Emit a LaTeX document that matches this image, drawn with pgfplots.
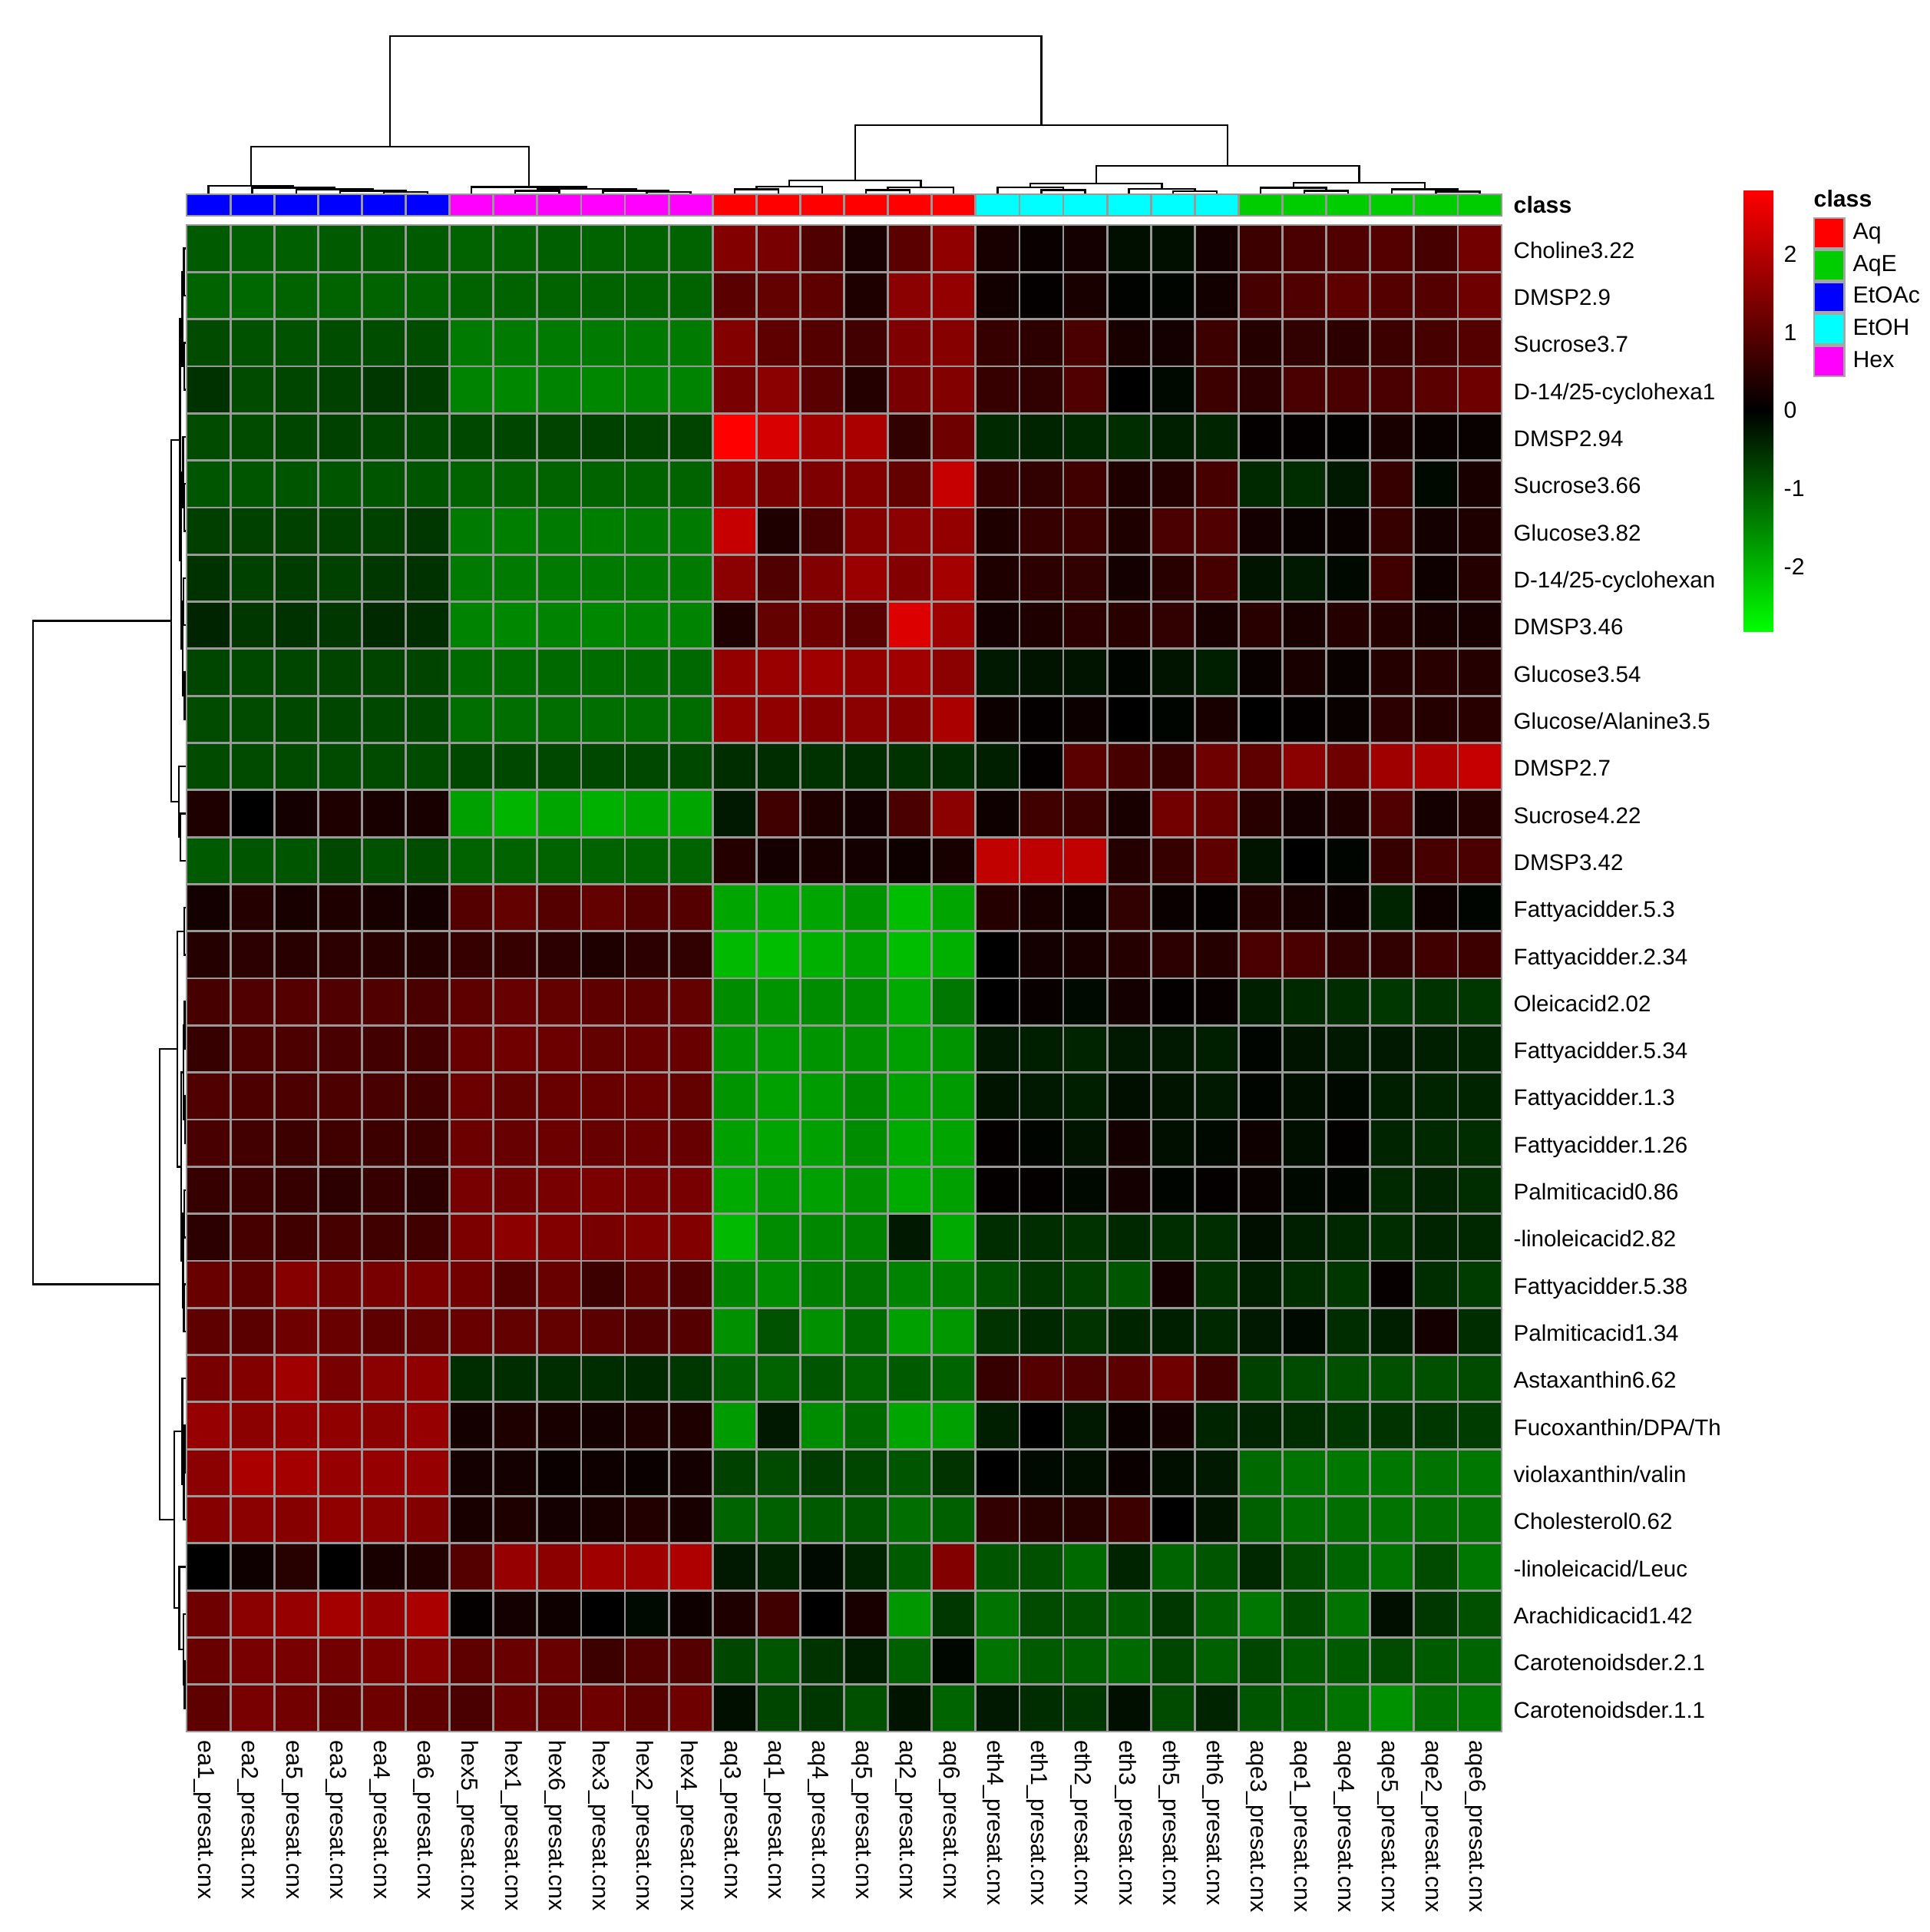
\documentclass[border=0pt]{standalone}
\usepackage{fontspec}
\setmainfont{Liberation Sans}
\usepackage{pgfplots}
\pgfplotsset{compat=1.18}
\newcommand\rowfont{\fontsize{8.4}{10}\selectfont}
\newcommand\colfont{\fontsize{8.6}{10}\selectfont}
\pgfplotsset{
  heatcm/.style={colormap={rg}{rgb255=(0,255,0) rgb255=(0,0,0) rgb255=(255,0,0)}},
}
\begin{document}
\begin{tikzpicture}
\useasboundingbox (0,0) rectangle (25.13,-25.16);
% ---------- main heatmap ----------
\begin{axis}[
  at={(2.43cm,-22.55cm)}, anchor=south west,
  width=17.13cm, height=19.62cm, scale only axis,
  xmin=0, xmax=30, ymin=0, ymax=32, y dir=reverse,
  clip=false, axis on top,
  heatcm, point meta min=-2.83, point meta max=2.83,
  xtick={0.5,1.5,2.5,3.5,4.5,5.5,6.5,7.5,8.5,9.5,10.5,11.5,12.5,13.5,14.5,15.5,16.5,17.5,18.5,19.5,20.5,21.5,22.5,23.5,24.5,25.5,26.5,27.5,28.5,29.5},
  ytick={0.5,1.5,2.5,3.5,4.5,5.5,6.5,7.5,8.5,9.5,10.5,11.5,12.5,13.5,14.5,15.5,16.5,17.5,18.5,19.5,20.5,21.5,22.5,23.5,24.5,25.5,26.5,27.5,28.5,29.5,30.5,31.5},
  minor xtick={0,1,...,30}, minor ytick={0,1,...,32},
  grid=minor, minor grid style={gray!80, line width=0.8pt},
  major tick length=0pt, minor tick length=0pt,
  axis line style={gray!80, line width=0.8pt},
  xticklabels={ea1\_presat.cnx, ea2\_presat.cnx, ea5\_presat.cnx, ea3\_presat.cnx, ea4\_presat.cnx, ea6\_presat.cnx, hex5\_presat.cnx, hex1\_presat.cnx, hex6\_presat.cnx, hex3\_presat.cnx, hex2\_presat.cnx, hex4\_presat.cnx, aq3\_presat.cnx, aq1\_presat.cnx, aq4\_presat.cnx, aq5\_presat.cnx, aq2\_presat.cnx, aq6\_presat.cnx, eth4\_presat.cnx, eth1\_presat.cnx, eth2\_presat.cnx, eth3\_presat.cnx, eth5\_presat.cnx, eth6\_presat.cnx, aqe3\_presat.cnx, aqe1\_presat.cnx, aqe4\_presat.cnx, aqe5\_presat.cnx, aqe2\_presat.cnx, aqe6\_presat.cnx},
  yticklabels={Choline3.22, DMSP2.9, Sucrose3.7, D-14/25-cyclohexa1, DMSP2.94, Sucrose3.66, Glucose3.82, D-14/25-cyclohexan, DMSP3.46, Glucose3.54, Glucose/Alanine3.5, DMSP2.7, Sucrose4.22, DMSP3.42, Fattyacidder.5.3, Fattyacidder.2.34, Oleicacid2.02, Fattyacidder.5.34, Fattyacidder.1.3, Fattyacidder.1.26, Palmiticacid0.86, -linoleicacid2.82, Fattyacidder.5.38, Palmiticacid1.34, Astaxanthin6.62, Fucoxanthin/DPA/Th, violaxanthin/valin, Cholesterol0.62, -linoleicacid/Leuc, Arachidicacid1.42, Carotenoidsder.2.1, Carotenoidsder.1.1},
  yticklabel pos=right,
  xticklabel style={font=\colfont, inner sep=0pt, text height=0.72em, text depth=0pt, yshift=-0.11cm, rotate=-90, anchor=west},
  yticklabel style={font=\rowfont, inner sep=0pt, text height=0.72em, text depth=0pt, anchor=west, xshift=0.15cm},
]
\addplot[matrix plot*, mesh/cols=30, point meta=explicit, forget plot]
 table[row sep=\\, x expr={\coordindex-30*floor((\coordindex+0.5)/30)+0.5}, y expr={floor((\coordindex+0.5)/30)+0.5}, meta=z] {
z\\
-1.0\\ -1.05\\ -1.05\\ -1.0\\ -1.0\\ -1.0\\ -1.1\\ -1.1\\ -1.05\\ -1.1\\ -1.1\\ -1.1\\ 1.45\\ 1.35\\ 0.9\\ 0.3\\ 1.0\\ 1.6\\ 0.28\\ 0.11\\ 0.22\\ -0.17\\ -0.17\\ 0.22\\ 0.67\\ 0.83\\ 0.89\\ 0.94\\ 0.78\\ 1.28\\
-1.1\\ -1.15\\ -1.1\\ -1.1\\ -1.1\\ -1.1\\ -1.1\\ -1.1\\ -1.1\\ -1.1\\ -1.1\\ -1.1\\ 1.0\\ 1.1\\ 1.05\\ 0.35\\ 1.55\\ 1.65\\ 0.2\\ 0.05\\ 0.28\\ -0.03\\ -0.05\\ 0.2\\ 0.78\\ 0.9\\ 1.05\\ 0.95\\ 0.95\\ 1.22\\
-0.83\\ -0.9\\ -0.9\\ -0.85\\ -0.85\\ -0.85\\ -1.35\\ -1.35\\ -1.35\\ -1.35\\ -1.35\\ -1.35\\ 1.45\\ 1.05\\ 0.95\\ 0.75\\ 1.4\\ 1.5\\ 0.6\\ 0.5\\ 0.83\\ 0.28\\ 0.22\\ 0.67\\ 0.4\\ 0.55\\ 0.5\\ 0.67\\ 0.78\\ 0.95\\
-0.55\\ -0.83\\ -0.78\\ -0.72\\ -0.6\\ -0.67\\ -1.45\\ -1.5\\ -1.45\\ -1.5\\ -1.45\\ -1.45\\ 1.35\\ 1.55\\ 1.0\\ 0.4\\ 1.35\\ 1.45\\ 0.6\\ 0.55\\ 0.9\\ 0.0\\ -0.1\\ 0.67\\ 0.5\\ 0.83\\ 0.83\\ 0.83\\ 1.0\\ 1.22\\
-0.83\\ -0.83\\ -0.78\\ -0.72\\ -0.78\\ -0.8\\ -0.8\\ -0.78\\ -0.75\\ -0.72\\ -0.75\\ -0.75\\ 2.83\\ 2.4\\ 1.78\\ 1.9\\ 0.55\\ 1.22\\ -0.45\\ -0.4\\ -0.45\\ -0.5\\ -0.33\\ -0.4\\ 0.05\\ 0.05\\ 0.03\\ 0.28\\ 0.1\\ 0.1\\
-0.95\\ -0.95\\ -0.95\\ -0.95\\ -0.95\\ -0.95\\ -1.1\\ -1.1\\ -1.1\\ -1.1\\ -1.1\\ -1.1\\ 1.65\\ 1.35\\ 1.4\\ 1.45\\ 1.1\\ 2.2\\ 0.6\\ 0.55\\ 0.72\\ 0.33\\ 0.4\\ 0.78\\ -0.45\\ -0.5\\ -0.28\\ 0.6\\ -0.1\\ 0.28\\
-0.7\\ -0.72\\ -0.72\\ -0.72\\ -0.72\\ -0.6\\ -1.35\\ -1.4\\ -1.35\\ -1.4\\ -1.35\\ -1.35\\ 2.2\\ 0.33\\ 0.83\\ 1.5\\ 1.55\\ 1.65\\ 0.33\\ 0.6\\ 0.67\\ 0.33\\ 0.83\\ 0.9\\ 0.22\\ 0.1\\ 0.1\\ 0.6\\ 0.22\\ 0.33\\
-0.55\\ -0.72\\ -0.67\\ -0.72\\ -0.6\\ -0.55\\ -1.35\\ -1.35\\ -1.35\\ -1.35\\ -1.35\\ -1.35\\ 1.55\\ 0.9\\ 1.45\\ 1.72\\ 1.45\\ 1.83\\ 0.33\\ 0.5\\ 0.55\\ 0.22\\ 0.45\\ 0.78\\ -0.22\\ -0.28\\ -0.1\\ 0.72\\ 0.17\\ 0.4\\
-0.4\\ -0.6\\ -0.55\\ -0.6\\ -0.45\\ -0.5\\ -1.45\\ -1.5\\ -1.45\\ -1.5\\ -1.45\\ -1.45\\ 0.33\\ 1.1\\ 1.22\\ 1.0\\ 2.45\\ 1.78\\ 0.22\\ 0.33\\ 0.5\\ 0.45\\ 0.55\\ 0.28\\ 0.45\\ 0.28\\ 0.4\\ 0.4\\ 0.28\\ 0.28\\
-0.78\\ -0.8\\ -0.78\\ -0.75\\ -0.75\\ -0.75\\ -1.17\\ -1.2\\ -1.17\\ -1.2\\ -1.17\\ -1.15\\ 1.65\\ 1.72\\ 1.78\\ 1.65\\ 1.78\\ 1.55\\ -0.28\\ -0.22\\ -0.22\\ -0.05\\ -0.22\\ -0.33\\ 0.1\\ 0.28\\ 0.1\\ 0.4\\ 0.45\\ 0.4\\
-0.83\\ -0.83\\ -0.8\\ -0.78\\ -0.8\\ -0.8\\ -1.22\\ -1.22\\ -1.22\\ -1.22\\ -1.22\\ -1.2\\ 1.65\\ 1.6\\ 1.5\\ 1.55\\ 1.5\\ 1.9\\ 0.13\\ 0.05\\ 0.13\\ 0.0\\ -0.05\\ 0.28\\ 0.0\\ 0.05\\ 0.1\\ 0.5\\ 0.4\\ 0.45\\
-0.83\\ -0.83\\ -0.83\\ -0.83\\ -0.83\\ -0.83\\ -0.8\\ -0.8\\ -0.8\\ -0.8\\ -0.8\\ -0.8\\ -0.5\\ -0.5\\ -0.55\\ -0.5\\ -0.55\\ -0.5\\ -0.33\\ 0.05\\ 1.0\\ 0.78\\ 0.6\\ 1.22\\ 1.05\\ 1.55\\ 1.22\\ 1.78\\ 1.95\\ 2.2\\
0.33\\ 0.0\\ 0.22\\ 0.33\\ 0.28\\ 0.28\\ -1.78\\ -2.0\\ -1.83\\ -1.95\\ -1.83\\ -1.83\\ -0.28\\ 0.72\\ 0.33\\ 0.22\\ 0.83\\ 1.55\\ 0.17\\ 0.72\\ 0.67\\ 0.28\\ 1.28\\ 1.17\\ 0.45\\ 0.22\\ 0.33\\ 0.9\\ 0.22\\ 0.4\\
-1.0\\ -0.95\\ -0.95\\ -0.8\\ -0.9\\ -0.85\\ -1.1\\ -1.1\\ -1.1\\ -1.1\\ -1.1\\ -1.1\\ 0.4\\ 0.22\\ 0.28\\ 0.22\\ 0.17\\ 0.28\\ 2.15\\ 2.1\\ 2.15\\ 0.4\\ 0.6\\ 1.05\\ -0.22\\ 0.0\\ -0.05\\ 0.6\\ 0.78\\ 0.83\\
0.22\\ 0.4\\ 0.28\\ 0.33\\ 0.28\\ 0.22\\ 0.95\\ 1.1\\ 0.95\\ 1.1\\ 0.95\\ 0.95\\ -1.83\\ -1.9\\ -1.83\\ -1.65\\ -2.1\\ -1.83\\ 0.4\\ 0.28\\ 0.17\\ 0.55\\ 0.11\\ 0.05\\ 0.4\\ 0.28\\ 0.17\\ -0.4\\ 0.17\\ -0.05\\
0.4\\ 0.5\\ 0.45\\ 0.5\\ 0.45\\ 0.4\\ 0.6\\ 0.6\\ 0.5\\ 0.33\\ 0.5\\ 0.55\\ -2.05\\ -2.1\\ -1.95\\ -1.78\\ -2.1\\ -1.95\\ 0.0\\ 0.22\\ 0.28\\ 0.4\\ 0.5\\ 0.4\\ 0.83\\ 0.83\\ 0.55\\ 0.55\\ 0.72\\ 0.67\\
0.78\\ 0.9\\ 0.95\\ 0.9\\ 0.9\\ 0.83\\ 1.05\\ 1.15\\ 1.1\\ 1.05\\ 1.05\\ 1.1\\ -1.55\\ -1.65\\ -1.55\\ -1.55\\ -1.89\\ -1.33\\ 0.0\\ 0.09\\ -0.11\\ 0.22\\ 0.06\\ 0.09\\ -0.33\\ -0.45\\ -0.5\\ -0.6\\ -0.55\\ -0.6\\
0.6\\ 0.85\\ 0.85\\ 0.8\\ 0.75\\ 0.75\\ 1.17\\ 1.25\\ 1.2\\ 1.1\\ 1.17\\ 1.17\\ -1.65\\ -1.72\\ -1.65\\ -1.6\\ -1.78\\ -1.65\\ -0.28\\ -0.33\\ -0.4\\ -0.28\\ -0.28\\ -0.33\\ -0.05\\ -0.22\\ -0.28\\ -0.28\\ -0.33\\ -0.4\\
0.9\\ 0.85\\ 0.85\\ 0.85\\ 0.8\\ 0.75\\ 1.2\\ 1.1\\ 1.17\\ 1.17\\ 1.2\\ 1.1\\ -1.65\\ -1.78\\ -1.72\\ -1.5\\ -1.78\\ -1.72\\ -0.22\\ -0.28\\ -0.33\\ -0.17\\ -0.22\\ -0.28\\ -0.05\\ -0.17\\ -0.1\\ -0.33\\ -0.4\\ -0.4\\
0.8\\ 0.75\\ 0.67\\ 0.72\\ 0.67\\ 0.67\\ 1.2\\ 1.15\\ 1.2\\ 1.15\\ 1.2\\ 1.15\\ -1.78\\ -1.83\\ -1.78\\ -1.55\\ -1.9\\ -1.83\\ 0.05\\ -0.05\\ -0.22\\ 0.22\\ -0.17\\ -0.1\\ 0.17\\ -0.17\\ 0.03\\ -0.4\\ -0.45\\ -0.5\\
0.6\\ 0.67\\ 0.6\\ 0.5\\ 0.6\\ 0.5\\ 1.33\\ 1.28\\ 1.33\\ 1.39\\ 1.33\\ 1.33\\ -1.89\\ -1.72\\ -1.78\\ -1.6\\ -1.9\\ -1.78\\ 0.05\\ 0.05\\ -0.1\\ 0.22\\ -0.05\\ 0.05\\ 0.1\\ -0.1\\ -0.05\\ -0.45\\ -0.4\\ -0.5\\
0.5\\ 0.78\\ 0.72\\ 0.78\\ 0.72\\ 0.72\\ 1.39\\ 1.56\\ 1.44\\ 1.33\\ 1.44\\ 1.44\\ -2.05\\ -1.55\\ -1.5\\ -1.44\\ -0.28\\ -1.89\\ -0.5\\ -0.5\\ -0.55\\ -0.44\\ -0.5\\ -0.5\\ -0.17\\ -0.33\\ -0.44\\ -0.5\\ -0.39\\ -0.44\\
1.17\\ 1.06\\ 1.5\\ 1.28\\ 1.33\\ 1.39\\ 1.28\\ 0.94\\ 1.17\\ 0.67\\ 1.06\\ 0.89\\ -1.45\\ -1.55\\ -1.4\\ -1.28\\ -1.45\\ -1.4\\ -0.9\\ -0.6\\ -0.72\\ -0.95\\ 0.22\\ -0.55\\ -0.33\\ -0.5\\ -0.6\\ 0.08\\ -0.5\\ -0.67\\
1.05\\ 1.0\\ 1.22\\ 1.17\\ 1.05\\ 1.1\\ 1.17\\ 1.1\\ 1.1\\ 1.0\\ 0.89\\ 0.95\\ -1.6\\ -0.9\\ -1.6\\ -1.17\\ -1.78\\ -1.67\\ -0.56\\ -0.44\\ -0.56\\ -0.39\\ -0.33\\ -0.44\\ -0.28\\ -0.11\\ -0.5\\ -0.33\\ 0.22\\ -0.5\\
1.33\\ 1.45\\ 1.78\\ 1.33\\ 1.55\\ 1.61\\ -0.5\\ -0.5\\ -0.5\\ -0.5\\ -0.45\\ -0.6\\ -1.05\\ -1.1\\ -0.94\\ -1.1\\ -1.0\\ -1.11\\ 0.61\\ 0.94\\ 0.89\\ 1.0\\ 1.22\\ 0.72\\ -0.72\\ -0.83\\ -0.89\\ -0.89\\ -0.89\\ -0.83\\
1.67\\ 1.55\\ 1.67\\ 1.61\\ 1.55\\ 1.67\\ 0.22\\ 0.33\\ 0.28\\ 0.22\\ 0.33\\ 0.33\\ -1.72\\ -0.28\\ -1.55\\ -1.17\\ -1.83\\ -1.78\\ -0.33\\ 0.0\\ -0.28\\ 0.11\\ 0.22\\ -0.39\\ -0.39\\ -0.5\\ -0.61\\ -0.56\\ -0.61\\ -0.67\\
1.55\\ 1.89\\ 1.83\\ 1.67\\ 1.67\\ 1.67\\ 0.22\\ 0.22\\ 0.11\\ 0.17\\ 0.11\\ 0.22\\ -0.72\\ -0.83\\ -0.67\\ -0.78\\ -0.94\\ -0.56\\ 0.0\\ -0.11\\ -0.17\\ 0.11\\ -0.17\\ -0.28\\ -1.17\\ -1.28\\ -1.33\\ -1.33\\ -1.28\\ -1.33\\
1.5\\ 1.55\\ 1.5\\ 1.61\\ 1.55\\ 1.44\\ 0.28\\ 0.33\\ 0.22\\ 0.28\\ 0.39\\ 0.28\\ -1.11\\ -1.06\\ -1.0\\ -0.94\\ -1.22\\ -1.06\\ 0.56\\ 0.44\\ 0.44\\ 0.67\\ 0.0\\ -0.22\\ -1.06\\ -1.22\\ -1.22\\ -1.28\\ -1.22\\ -1.28\\
0.0\\ 0.17\\ 0.44\\ 0.0\\ 0.28\\ 0.39\\ 0.94\\ 1.67\\ 1.56\\ 1.78\\ 1.78\\ 1.94\\ -0.28\\ -0.39\\ -0.11\\ -0.39\\ -1.0\\ 1.45\\ -0.94\\ -0.89\\ -1.17\\ -0.39\\ -1.11\\ -0.94\\ -0.44\\ -0.83\\ -1.11\\ -1.28\\ -0.83\\ -1.33\\
1.22\\ 1.55\\ 1.67\\ 1.83\\ 1.67\\ 1.89\\ 0.06\\ 0.22\\ 0.17\\ 0.0\\ -0.11\\ 0.17\\ 0.33\\ 0.72\\ 0.0\\ 0.28\\ -1.67\\ -0.61\\ -1.28\\ -0.83\\ -0.89\\ -1.0\\ -0.61\\ -1.06\\ -1.33\\ -0.83\\ -1.28\\ -0.17\\ -0.61\\ -0.89\\
1.17\\ 1.33\\ 1.33\\ 1.28\\ 1.39\\ 1.5\\ 1.06\\ 1.17\\ 1.17\\ 0.67\\ 0.94\\ 0.94\\ -0.78\\ -0.94\\ -0.56\\ -0.33\\ -1.06\\ -0.06\\ -1.28\\ -1.0\\ -1.06\\ -1.17\\ -0.78\\ -1.06\\ -0.78\\ -1.0\\ -1.0\\ -0.83\\ -1.0\\ -1.11\\
1.06\\ 1.33\\ 1.28\\ 1.11\\ 1.22\\ 1.06\\ 0.83\\ 1.17\\ 1.11\\ 1.22\\ 1.06\\ 1.22\\ -0.17\\ -0.78\\ -0.61\\ -0.89\\ -0.22\\ -1.11\\ -0.28\\ -0.5\\ -0.61\\ -0.17\\ -0.83\\ -0.39\\ -0.94\\ -1.06\\ -1.28\\ -1.61\\ -1.22\\ -1.33\\
};
% top dendrogram (columns)
\addplot[black, line width=0.7pt, unbounded coords=jump, forget plot] table[row sep=\\] {
x y\\
4.5 -0.66\\ 4.5 -0.70\\ 5.5 -0.70\\ 5.5 -0.66\\ nan nan\\
3.5 -0.66\\ 3.5 -0.73\\ 5.0 -0.73\\ 5.0 -0.70\\ nan nan\\
2.5 -0.66\\ 2.5 -0.76\\ 4.25 -0.76\\ 4.25 -0.73\\ nan nan\\
1.5 -0.66\\ 1.5 -0.79\\ 3.375 -0.79\\ 3.375 -0.76\\ nan nan\\
0.5 -0.66\\ 0.5 -0.83\\ 2.4375 -0.83\\ 2.4375 -0.79\\ nan nan\\
7.5 -0.66\\ 7.5 -0.73\\ 8.5 -0.73\\ 8.5 -0.66\\ nan nan\\
10.5 -0.66\\ 10.5 -0.70\\ 11.5 -0.70\\ 11.5 -0.66\\ nan nan\\
9.5 -0.66\\ 9.5 -0.73\\ 11.0 -0.73\\ 11.0 -0.70\\ nan nan\\
8.0 -0.73\\ 8.0 -0.77\\ 10.25 -0.77\\ 10.25 -0.73\\ nan nan\\
6.5 -0.66\\ 6.5 -0.81\\ 9.125 -0.81\\ 9.125 -0.77\\ nan nan\\
1.46875 -0.83\\ 1.46875 -1.66\\ 7.8125 -1.66\\ 7.8125 -0.81\\ nan nan\\
12.5 -0.66\\ 12.5 -0.76\\ 13.5 -0.76\\ 13.5 -0.66\\ nan nan\\
13.0 -0.76\\ 13.0 -0.82\\ 14.5 -0.82\\ 14.5 -0.66\\ nan nan\\
15.5 -0.66\\ 15.5 -0.74\\ 16.5 -0.74\\ 16.5 -0.66\\ nan nan\\
16.0 -0.74\\ 16.0 -0.80\\ 17.5 -0.80\\ 17.5 -0.66\\ nan nan\\
13.75 -0.82\\ 13.75 -0.95\\ 16.75 -0.95\\ 16.75 -0.80\\ nan nan\\
19.5 -0.66\\ 19.5 -0.74\\ 20.5 -0.74\\ 20.5 -0.66\\ nan nan\\
18.5 -0.66\\ 18.5 -0.80\\ 20.0 -0.80\\ 20.0 -0.74\\ nan nan\\
22.5 -0.66\\ 22.5 -0.72\\ 23.5 -0.72\\ 23.5 -0.66\\ nan nan\\
21.5 -0.66\\ 21.5 -0.77\\ 23.0 -0.77\\ 23.0 -0.72\\ nan nan\\
19.25 -0.80\\ 19.25 -0.88\\ 22.25 -0.88\\ 22.25 -0.77\\ nan nan\\
25.5 -0.66\\ 25.5 -0.73\\ 26.5 -0.73\\ 26.5 -0.66\\ nan nan\\
24.5 -0.66\\ 24.5 -0.79\\ 26.0 -0.79\\ 26.0 -0.73\\ nan nan\\
28.5 -0.66\\ 28.5 -0.71\\ 29.5 -0.71\\ 29.5 -0.66\\ nan nan\\
27.5 -0.66\\ 27.5 -0.76\\ 29.0 -0.76\\ 29.0 -0.71\\ nan nan\\
25.25 -0.79\\ 25.25 -0.90\\ 28.25 -0.90\\ 28.25 -0.76\\ nan nan\\
20.75 -0.88\\ 20.75 -1.26\\ 26.75 -1.26\\ 26.75 -0.90\\ nan nan\\
15.25 -0.95\\ 15.25 -2.12\\ 23.75 -2.12\\ 23.75 -1.26\\ nan nan\\
4.640625 -1.66\\ 4.640625 -4.01\\ 19.5 -4.01\\ 19.5 -2.12\\
};
% left dendrogram (rows)
\addplot[black, line width=0.7pt, unbounded coords=jump, forget plot] table[row sep=\\] {
x y\\
0 0.5\\ -0.06 0.5\\ -0.06 1.5\\ 0 1.5\\ nan nan\\
0 2.5\\ -0.05 2.5\\ -0.05 3.5\\ 0 3.5\\ nan nan\\
-0.06 1.0\\ -0.10 1.0\\ -0.10 3.0\\ -0.05 3.0\\ nan nan\\
0 5.5\\ -0.05 5.5\\ -0.05 6.5\\ 0 6.5\\ nan nan\\
0 4.5\\ -0.08 4.5\\ -0.08 6.0\\ -0.05 6.0\\ nan nan\\
0 7.5\\ -0.07 7.5\\ -0.07 8.5\\ 0 8.5\\ nan nan\\
0 9.5\\ -0.04 9.5\\ -0.04 10.5\\ 0 10.5\\ nan nan\\
-0.07 8.0\\ -0.09 8.0\\ -0.09 10.0\\ -0.04 10.0\\ nan nan\\
-0.08 5.25\\ -0.12 5.25\\ -0.12 9.0\\ -0.09 9.0\\ nan nan\\
-0.10 2.0\\ -0.15 2.0\\ -0.15 7.125\\ -0.12 7.125\\ nan nan\\
0 12.5\\ -0.14 12.5\\ -0.14 13.5\\ 0 13.5\\ nan nan\\
0 11.5\\ -0.175 11.5\\ -0.175 13.0\\ -0.14 13.0\\ nan nan\\
-0.15 4.5625\\ -0.35 4.5625\\ -0.35 12.25\\ -0.175 12.25\\ nan nan\\
0 14.5\\ -0.05 14.5\\ -0.05 15.5\\ 0 15.5\\ nan nan\\
0 16.5\\ -0.04 16.5\\ -0.04 17.5\\ 0 17.5\\ nan nan\\
0 18.5\\ -0.03 18.5\\ -0.03 19.5\\ 0 19.5\\ nan nan\\
-0.04 17\\ -0.07 17\\ -0.07 19\\ -0.03 19\\ nan nan\\
0 20.5\\ -0.05 20.5\\ -0.05 21.5\\ 0 21.5\\ nan nan\\
0 22.5\\ -0.06 22.5\\ -0.06 23.5\\ 0 23.5\\ nan nan\\
-0.05 21\\ -0.08 21\\ -0.08 23\\ -0.06 23\\ nan nan\\
-0.07 18\\ -0.12 18\\ -0.12 22\\ -0.08 22\\ nan nan\\
-0.05 15\\ -0.21 15\\ -0.21 20\\ -0.12 20\\ nan nan\\
0 25.5\\ -0.04 25.5\\ -0.04 26.5\\ 0 26.5\\ nan nan\\
-0.04 26\\ -0.06 26\\ -0.06 27.5\\ 0 27.5\\ nan nan\\
0 24.5\\ -0.10 24.5\\ -0.10 26.75\\ -0.06 26.75\\ nan nan\\
0 30.5\\ -0.04 30.5\\ -0.04 31.5\\ 0 31.5\\ nan nan\\
0 29.5\\ -0.07 29.5\\ -0.07 31\\ -0.04 31\\ nan nan\\
0 28.5\\ -0.17 28.5\\ -0.17 30.25\\ -0.07 30.25\\ nan nan\\
-0.10 25.625\\ -0.28 25.625\\ -0.28 29.375\\ -0.17 29.375\\ nan nan\\
-0.21 17.5\\ -0.61 17.5\\ -0.61 27.5\\ -0.28 27.5\\ nan nan\\
-0.35 8.40625\\ -3.50 8.40625\\ -3.50 22.5\\ -0.61 22.5\\
};
\end{axis}
% ---------- class bar + legend ----------
\begin{axis}[
  at={(2.43cm,-2.81cm)}, anchor=south west,
  width=17.13cm, height=0.28cm, scale only axis,
  xmin=0, xmax=30, ymin=0, ymax=1,
  axis on top, clip=false,
  xtick={0,1,...,30}, xticklabels={}, ytick=\empty,
  xmajorgrids=true,
  major grid style={gray!80, line width=0.8pt},
  major tick length=0pt,
  axis line style={gray!80, line width=0.8pt},
  legend image code/.code={\draw[#1, draw=gray!70, line width=0.7pt] (0cm,-0.196cm) rectangle (0.395cm,0.196cm);},
  legend style={at={(1.2364,-0.04)}, anchor=north west, draw=none, fill=none,
    inner sep=0pt, row sep=0pt, column sep=0.1cm, font=\colfont,
    nodes={inner sep=0pt}, cells={anchor=west}},
]
\addplot[fill={rgb,255:red,0;green,0;blue,255}, draw=none, forget plot] coordinates {(0,0) (6,0) (6,1) (0,1)};
\addplot[fill={rgb,255:red,255;green,0;blue,255}, draw=none, forget plot] coordinates {(6,0) (12,0) (12,1) (6,1)};
\addplot[fill={rgb,255:red,255;green,0;blue,0}, draw=none, forget plot] coordinates {(12,0) (18,0) (18,1) (12,1)};
\addplot[fill={rgb,255:red,0;green,255;blue,255}, draw=none, forget plot] coordinates {(18,0) (24,0) (24,1) (18,1)};
\addplot[fill={rgb,255:red,0;green,205;blue,0}, draw=none, forget plot] coordinates {(24,0) (30,0) (30,1) (24,1)};
\addlegendimage{fill={rgb,255:red,255;green,0;blue,0}}
\addlegendentry{Aq}
\addlegendimage{fill={rgb,255:red,0;green,205;blue,0}}
\addlegendentry{AqE}
\addlegendimage{fill={rgb,255:red,0;green,0;blue,255}}
\addlegendentry{EtOAc}
\addlegendimage{fill={rgb,255:red,0;green,255;blue,255}}
\addlegendentry{EtOH}
\addlegendimage{fill={rgb,255:red,255;green,0;blue,255}}
\addlegendentry{Hex}
\end{axis}
% ---------- colour key ----------
\begin{axis}[
  at={(22.71cm,-2.47cm)}, anchor=north west,
  width=0.39cm, height=5.75cm, scale only axis,
  xmin=0, xmax=1, ymin=0, ymax=1,
  axis line style={draw=none}, xtick=\empty, ytick=\empty,
  heatcm, point meta min=-2.83, point meta max=2.83,
  colorbar,
  colorbar shift/.style={},
  colorbar style={
    at={(parent axis.north west)}, anchor=north west,
    width=0.39cm, height=5.75cm, scale only axis,
    ytick={-2,-1,0,1,2}, yticklabel pos=right,
    major tick length=0pt,
    axis line style={draw=none},
    yticklabel style={font=\colfont, inner sep=0pt, anchor=west, xshift=0.13cm},
    /pgf/number format/assume math mode=true,
  },
]
\addplot[draw=none, forget plot] coordinates {(0.5,0.5)};
\end{axis}
\node[anchor=west, inner sep=0pt, font=\colfont\bfseries] at (19.71cm,-2.67cm) {class};
\node[anchor=west, inner sep=0pt, font=\colfont\bfseries] at (23.62cm,-2.59cm) {class};
\end{tikzpicture}
\end{document}
